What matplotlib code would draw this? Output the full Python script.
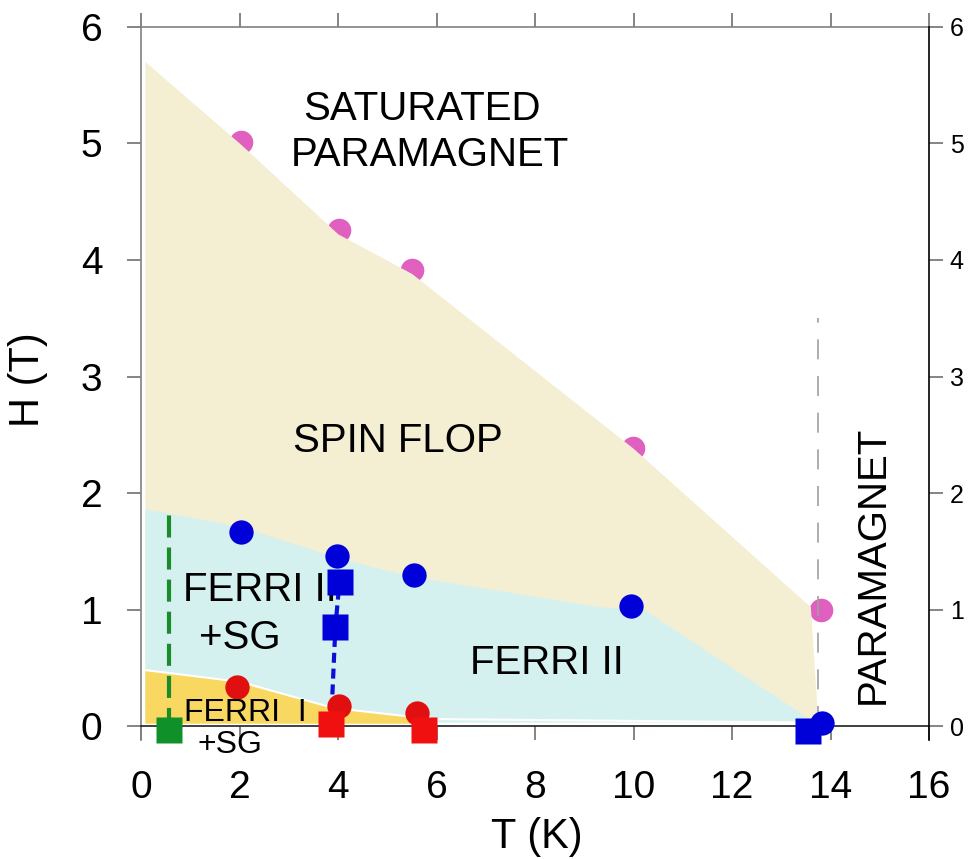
import numpy as np
import matplotlib
matplotlib.use("Agg")
import matplotlib.pyplot as plt

plt.rcParams['font.family'] = ['Liberation Sans', 'DejaVu Sans']

# phase boundaries (T in K, H in T)
flop_T = [0.08, 2.05, 4.0, 5.5, 10.0, 13.6, 13.75]
flop_H = [5.7, 4.98, 4.22, 3.88, 2.38, 1.02, 0.05]

ferri2_T = [0.08, 2.0, 4.0, 5.5, 9.3, 10.2, 13.65]
ferri2_H = [1.86, 1.71, 1.44, 1.28, 1.02, 1.0, 0.04]

ferri1_T = [0.08, 2.0, 3.9, 5.9]
ferri1_H = [0.48, 0.38, 0.155, 0.06]

# measured points
sat_T = [2.02, 4.01, 5.49, 9.98, 13.8]
sat_H = [5.01, 4.26, 3.91, 2.39, 1.0]

sf_T = [2.02, 3.97, 5.53, 9.94, 13.82]
sf_H = [1.665, 1.46, 1.30, 1.03, 0.03]

f1_T = [1.94, 4.01, 5.59]
f1_H = [0.335, 0.17, 0.11]

red_sq_T = [3.85, 5.75]
red_sq_H = [0.02, -0.03]

blue_sq_T = [4.03, 3.94, 13.54]
blue_sq_H = [1.24, 0.85, -0.04]

green_sq_T = [0.55]
green_sq_H = [-0.03]

sg_line_T = [0.55, 0.55]
sg_line_H = [-0.03, 1.82]

fi_line_T = [3.85, 3.94, 4.03]
fi_line_H = [0.0, 0.85, 1.27]

tn_line_T = [13.74, 13.74]
tn_line_H = [0.0, 3.5]

x_ticks = np.arange(0, 17, 2)
y_ticks = np.arange(0, 7, 1)

fig = plt.figure(figsize=(9.71, 8.59), dpi=100)
ax = fig.add_axes([0.1457, 0.1385, 0.8110, 0.8301])
ax.set_xlim(0, 16)
ax.set_ylim(-0.12, 6)

# pink saturation points sit under the shading
ax.plot(sat_T, sat_H, 'o', color='#E060C0', ms=17, mec='none', zorder=1)

beige = '#F4EED3'
cyan = '#D4F1F0'
yellow = '#F8D860'

ax.fill(flop_T + [0.08], flop_H + [0.05], color=beige, lw=0, zorder=2)
ax.fill(ferri2_T + [13.65, 0.08], ferri2_H + [0.03, 0.03], color=cyan, lw=0, zorder=2.1)
ax.fill(ferri1_T + [5.9, 0.08], ferri1_H + [0.02, 0.02], color=yellow, lw=0, zorder=2.2)
ax.plot(ferri1_T + [13.6], ferri1_H + [0.03], color='white', lw=1.5, zorder=2.3)

ax.plot(tn_line_T, tn_line_H, color='#A0A0A0', lw=1.2, dashes=(12, 10), zorder=3)
ax.plot(sg_line_T, sg_line_H, color='#1A8C2A', lw=3, dashes=(5.3, 2.4), zorder=3)
ax.plot(fi_line_T, fi_line_H, color='#0A10D8', lw=3, dashes=(2.4, 1.4), zorder=3)

ax.plot(sf_T, sf_H, 'o', color='#0000D8', ms=17.5, mec='none', zorder=4)
ax.plot(f1_T, f1_H, 'o', color='#E01010', ms=17.5, mec='none', zorder=4)
ax.plot(red_sq_T, red_sq_H, 's', color='#F01010', ms=18.5, mec='none', zorder=4, clip_on=False)
ax.plot(blue_sq_T, blue_sq_H, 's', color='#0000D8', ms=18.5, mec='none', zorder=4, clip_on=False)
ax.plot(green_sq_T, green_sq_H, 's', color='#109028', ms=18.5, mec='none', zorder=4, clip_on=False)

# region labels
big = 29
ax.text(5.70, 5.30, 'SATURATED', fontsize=big, ha='center', va='center', zorder=5)
ax.text(5.86, 4.90, 'PARAMAGNET', fontsize=big, ha='center', va='center', zorder=5)
ax.text(5.21, 2.45, 'SPIN FLOP', fontsize=big, ha='center', va='center', zorder=5)
ax.text(2.41, 1.17, 'FERRI II', fontsize=big, ha='center', va='center', zorder=3.5)
ax.text(2.0, 0.755, '+SG', fontsize=big, ha='center', va='center', zorder=5)
ax.text(8.23, 0.54, 'FERRI II', fontsize=big, ha='center', va='center', zorder=5)
ax.text(2.1, 0.11, 'FERRI  I', fontsize=23, ha='center', va='center', zorder=5)
ax.text(1.8, -0.16, '+SG', fontsize=23, ha='center', va='center', zorder=5)
ax.text(14.85, 1.38, 'PARAMAGNET', fontsize=big, rotation=90, ha='center', va='center', zorder=5)

# axes styling
ax.spines['bottom'].set_position(('data', 0))
ax.spines['bottom'].set_color('#202020')
ax.spines['left'].set_color('#808080')
ax.spines['top'].set_color('#808080')
ax.spines['right'].set_visible(False)
for s in ax.spines.values():
    s.set_linewidth(1.2)

ax.set_xticks(x_ticks)
ax.set_yticks(y_ticks)
ax.tick_params(axis='x', direction='out', length=10, width=1.2,
               color='#707070', labelsize=28, pad=22, top=True)
ax.tick_params(axis='y', direction='out', length=10, width=1.2,
               color='#707070', labelsize=28, pad=18)

# right-hand axis with smaller labels
ax2 = ax.twinx()
ax2.set_ylim(ax.get_ylim())
ax2.set_yticks(y_ticks)
for side in ['left', 'top', 'bottom']:
    ax2.spines[side].set_visible(False)
ax2.spines['right'].set_color('black')
ax2.spines['right'].set_linewidth(1.2)
ax2.tick_params(axis='y', direction='out', length=10, width=1.2,
                color='#707070', labelsize=18, pad=5)

ax.set_xlabel('T (K)', fontsize=30)
ax.set_ylabel('H (T)', fontsize=30)
ax.xaxis.set_label_coords(0.502, -0.108)
ax.yaxis.set_label_coords(-0.119, 0.505)

fig.savefig('out.png', dpi=100)
